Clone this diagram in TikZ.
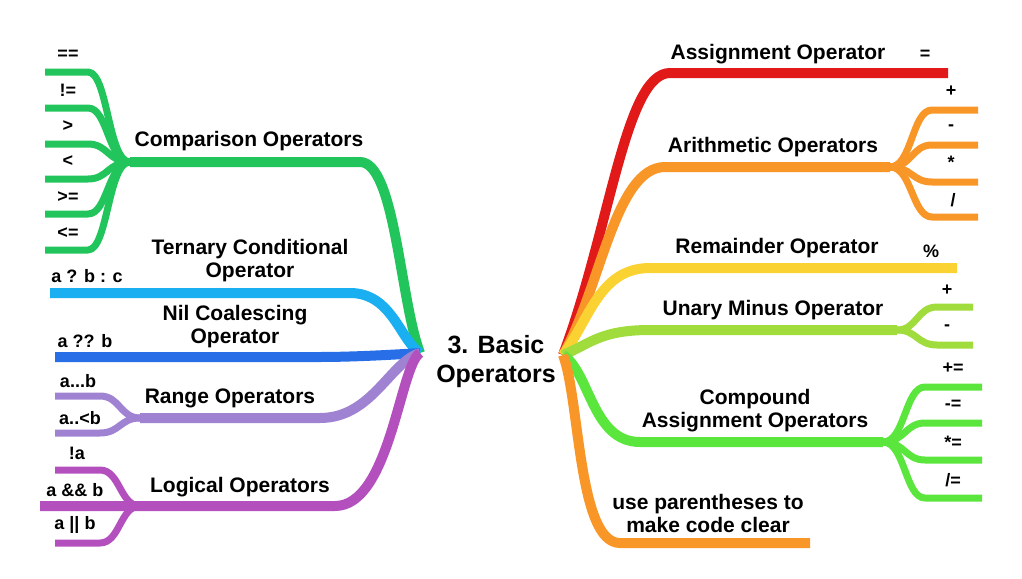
\documentclass[tikz,border=0pt]{standalone}
\usepackage{fontspec}
\setmainfont{Liberation Sans}
\usetikzlibrary{calc}
\definecolor{cmpgreen}{RGB}{34,196,92}
\definecolor{ternblue}{RGB}{25,175,240}
\definecolor{nilblue}{RGB}{40,110,230}
\definecolor{rangepurple}{RGB}{160,130,210}
\definecolor{logicpurple}{RGB}{180,80,190}
\definecolor{assignred}{RGB}{225,25,25}
\definecolor{arithorange}{RGB}{248,150,40}
\definecolor{remyellow}{RGB}{250,210,50}
\definecolor{unarygreen}{RGB}{160,220,60}
\definecolor{compgreen}{RGB}{90,230,60}

\begin{document}
\begin{tikzpicture}[x=0.5pt, y=-0.5pt,
  branch/.style={line width=5pt, line join=round},
  twig/.style={line width=3.5pt, line join=round},
  lbl/.style={font=\fontsize{10.5}{11.5}\selectfont\bfseries, align=center},
  leaflbl/.style={font=\fontsize{9}{10}\selectfont\bfseries}]

  \useasboundingbox (0,0) rectangle (1022,578);

  % Hubs either side of the title
  \coordinate (hubL) at (420,353);
  \coordinate (hubR) at (563,355);
  \node[font=\fontsize{12.5}{14.5}\selectfont\bfseries, align=center]
    (root) at (496,362) {3. Basic\\Operators};

  % Comparison operators
  \coordinate (cmpJ) at (130,162);
  \draw[branch, cmpgreen] (hubL) .. controls (400,300) and (395,162)
    .. (360,162) -- (cmpJ);
  \foreach \y [count=\i] in {72,108,144,179,214,250} {
    \coordinate (cmp\i) at (45,\y);
    \draw[twig, cmpgreen] (cmpJ) .. controls (108,162) and (108,\y)
      .. (88,\y) -- (cmp\i);
  }
  \node[lbl] (cmp) at (249,141) {Comparison Operators};
  \node[leaflbl] (eq)  at (68,55)  {==};
  \node[leaflbl] (neq) at (68,90)  {!=};
  \node[leaflbl] (gt)  at (68,126) {>};
  \node[leaflbl] (lt)  at (68,161) {<};
  \node[leaflbl] (geq) at (68,197) {>=};
  \node[leaflbl] (leq) at (68,233) {<=};

  % Ternary conditional
  \coordinate (ternE) at (50,293);
  \draw[branch, ternblue] (hubL) .. controls (400,340) and (392,293)
    .. (350,293) -- (ternE);
  \node[lbl] (tern) at (250,261) {Ternary Conditional\\Operator};
  \node[leaflbl] (ternop) at (87,276) {a ? b : c};

  % Nil coalescing
  \coordinate (nilE) at (55,357);
  \draw[branch, nilblue] (hubL) .. controls (390,355) and (350,357)
    .. (320,357) -- (nilE);
  \node[lbl] (nil) at (235,327) {Nil Coalescing\\Operator};
  \node[leaflbl] (nilop) at (85,341) {a ?? b};

  % Range operators
  \coordinate (rngJ) at (140,418);
  \draw[branch, rangepurple] (hubL) .. controls (390,362) and (372,418)
    .. (320,418) -- (rngJ);
  \foreach \y [count=\i] in {396,433} {
    \coordinate (rng\i) at (55,\y);
    \draw[twig, rangepurple] (rngJ) .. controls (120,418) and (120,\y)
      .. (100,\y) -- (rng\i);
  }
  \node[lbl] (rng) at (230,398) {Range Operators};
  \node[leaflbl] (closed) at (78,381) {a...b};
  \node[leaflbl] (halfopen) at (80,418) {a..<b};

  % Logical operators
  \coordinate (logJ) at (140,506);
  \coordinate (logE) at (40,506);
  \draw[branch, logicpurple] (hubL) .. controls (400,365) and (390,506)
    .. (335,506) -- (logE);
  \foreach \y [count=\i] in {470,543} {
    \coordinate (log\i) at (55,\y);
    \draw[twig, logicpurple] (logJ) .. controls (120,506) and (120,\y)
      .. (100,\y) -- (log\i);
  }
  \node[lbl] (logic) at (240,487) {Logical Operators};
  \node[leaflbl] (lnot) at (77,453) {!a};
  \node[leaflbl] (land) at (75,490) {a \&\& b};
  \node[leaflbl] (lor)  at (75,525) {a || b};

  % Assignment
  \coordinate (asgE) at (948,73);
  \draw[branch, assignred] (hubR) .. controls (610,230) and (625,73)
    .. (670,73) -- (asgE);
  \node[lbl] (asg) at (778,54) {Assignment Operator};
  \node[leaflbl] (asgop) at (925,55) {=};

  % Arithmetic
  \coordinate (arJ) at (890,167);
  \draw[branch, arithorange] (hubR) .. controls (600,290) and (615,167)
    .. (665,167) -- (arJ);
  \foreach \y [count=\i] in {110,145,182,217} {
    \coordinate (ar\i) at (978,\y);
    \draw[twig, arithorange] (arJ) .. controls (912,167) and (912,\y)
      .. (932,\y) -- (ar\i);
  }
  \node[lbl] (arith) at (773,147) {Arithmetic Operators};
  \node[leaflbl] (plus)  at (951,91)  {+};
  \node[leaflbl] (minus) at (951,128) {-};
  \node[leaflbl] (times) at (951,162) {*};
  \node[leaflbl] (div)   at (953,200) {/};

  % Remainder
  \coordinate (remE) at (957,268);
  \draw[branch, remyellow] (hubR) .. controls (590,318) and (600,268)
    .. (650,268) -- (remE);
  \node[lbl] (rem) at (777,248) {Remainder Operator};
  \node[leaflbl] (mod) at (931,251) {\%};

  % Unary minus
  \coordinate (unJ) at (897,330);
  \draw[branch, unarygreen] (hubR) .. controls (590,344) and (600,330)
    .. (650,330) -- (unJ);
  \foreach \y [count=\i] in {307,345} {
    \coordinate (un\i) at (973,\y);
    \draw[twig, unarygreen] (unJ) .. controls (917,330) and (917,\y)
      .. (937,\y) -- (un\i);
  }
  \node[lbl] (unary) at (773,310) {Unary Minus Operator};
  \node[leaflbl] (uplus)  at (947,290) {+};
  \node[leaflbl] (uminus) at (947,328) {-};

  % Compound assignment
  \coordinate (cpJ) at (883,442);
  \draw[branch, compgreen] (hubR) .. controls (590,372) and (592,442)
    .. (640,442) -- (cpJ);
  \foreach \y [count=\i] in {387,423,460,498} {
    \coordinate (cp\i) at (982,\y);
    \draw[twig, compgreen] (cpJ) .. controls (905,442) and (905,\y)
      .. (925,\y) -- (cp\i);
  }
  \node[lbl] (comp) at (755,411) {Compound\\Assignment Operators};
  \node[leaflbl] (pluseq)  at (953,368) {+=};
  \node[leaflbl] (minuseq) at (953,405) {-=};
  \node[leaflbl] (timeseq) at (953,442) {*=};
  \node[leaflbl] (diveq)   at (953,480) {/=};

  % Parentheses
  \coordinate (parE) at (810,543);
  \draw[branch, arithorange] (hubR) .. controls (580,400) and (578,543)
    .. (620,543) -- (parE);
  \node[lbl] (paren) at (708,513) {use parentheses to\\make code clear};

\end{tikzpicture}
\end{document}
